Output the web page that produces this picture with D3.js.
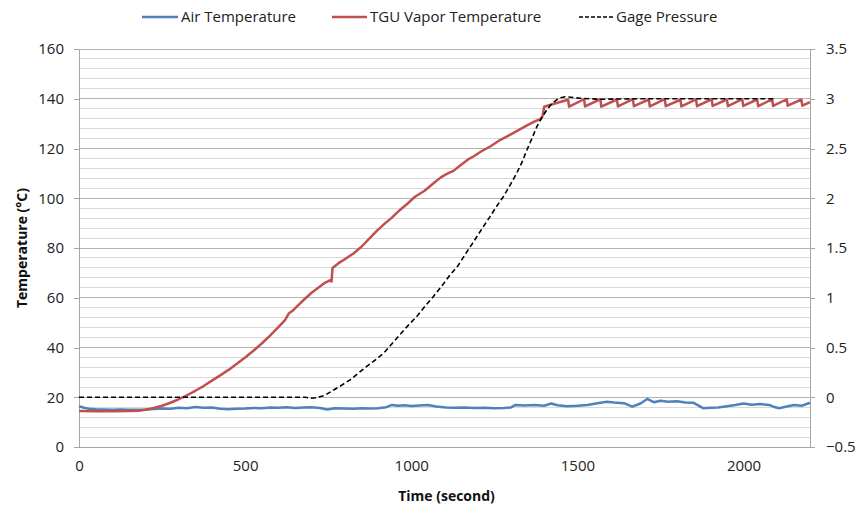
<!DOCTYPE html>
<html><head><meta charset="utf-8">
<script src="https://cdn.jsdelivr.net/npm/d3@7"></script>
<style>body{margin:0;background:#fff}svg{display:block}text{font-family:"Open Sans",sans-serif}</style>
</head><body><div id="chart"></div>
<script>
// ---- data ----
const xTicks = [0, 500, 1000, 1500, 2000];
const yLeftTicks = [0, 20, 40, 60, 80, 100, 120, 140, 160];
const yRightTicks = [-0.5, 0, 0.5, 1, 1.5, 2, 2.5, 3, 3.5];
const seriesNames = ["Air Temperature", "TGU Vapor Temperature", "Gage Pressure"];

const airTime = [0,15,30,50,75,100,125,150,175,200,225,250,275,300,325,350,375,400,425,450,475,500,525,550,575,600,625,650,675,700,725,747,770,800,825,850,875,900,925,942,960,980,1000,1025,1050,1075,1105,1130,1160,1190,1220,1250,1280,1300,1314,1340,1370,1400,1421,1440,1470,1500,1530,1560,1589,1610,1640,1665,1690,1710,1730,1750,1773,1800,1825,1848,1865,1878,1900,1923,1950,1975,2000,2025,2050,2077,2090,2107,2130,2152,2175,2200];
const airTemp = [16.4,15.8,15.4,15.2,15.1,15.0,15.1,15.0,15.0,15.1,15.3,15.5,15.4,15.8,15.6,16.1,15.8,15.9,15.4,15.2,15.4,15.5,15.7,15.6,15.9,15.8,16.0,15.7,15.9,16.0,15.7,15.1,15.6,15.5,15.4,15.6,15.5,15.6,16.0,16.9,16.6,16.8,16.5,16.7,16.9,16.3,15.9,15.8,15.9,15.7,15.8,15.6,15.7,15.9,16.9,16.7,16.9,16.6,17.5,16.8,16.4,16.6,16.9,17.6,18.2,17.9,17.6,16.2,17.5,19.3,18.0,18.6,18.2,18.4,17.9,17.8,16.6,15.6,15.8,15.9,16.4,16.9,17.5,17.0,17.3,16.9,16.2,15.6,16.3,16.9,16.6,17.8];

const vaporTime = [0,50,100,150,180,200,225,250,275,300,325,350,375,400,425,450,475,500,525,550,575,600,620,632,645,660,680,700,720,740,755,760,763,780,800,826,850,875,897,920,940,966,990,1010,1040,1067,1090,1110,1127,1150,1170,1187,1210,1240,1267,1290,1320,1350,1370,1388,1395,1400,1420,1440,1472,1475,1520,1523,1569,1572,1619,1622,1667,1670,1715,1718,1763,1766,1810,1813,1857,1860,1904,1907,1950,1953,1996,1999,2041,2044,2086,2089,2130,2133,2174,2177,2200];
const vaporTemp = [14.5,14.4,14.4,14.5,14.6,15.0,15.7,16.6,17.8,19.2,20.8,22.6,24.5,26.7,28.8,31.0,33.5,36.0,38.7,41.6,44.8,48.2,51.0,53.8,55.0,57.0,59.6,62.0,64.0,66.0,67.0,66.5,72.0,73.8,75.5,77.8,80.5,84.0,87.0,89.8,92.0,95.3,98.0,100.5,103.0,106.0,108.5,110.0,111.0,113.5,115.5,116.8,118.8,121.0,123.4,125.0,127.2,129.4,130.8,131.8,133.0,136.8,137.6,138.4,139.6,136.8,139.8,136.9,139.8,136.8,139.7,136.9,139.8,137.0,139.7,136.9,139.8,137.0,139.6,136.9,139.7,137.0,139.8,137.1,139.7,137.0,139.8,137.1,139.7,137.0,139.8,137.1,139.8,137.2,139.7,137.2,138.6];

const pressTime = [0,200,400,600,680,700,715,740,765,790,816,840,866,890,916,940,966,990,1016,1040,1066,1090,1117,1140,1165,1187,1212,1237,1257,1277,1297,1317,1333,1348,1363,1378,1393,1408,1423,1438,1450,1463,1480,1508,1568,1700,1900,2095];
const pressVal = [0,0,0,0,0,-0.01,-0.005,0.02,0.07,0.12,0.175,0.24,0.31,0.37,0.44,0.53,0.63,0.72,0.81,0.91,1.01,1.11,1.23,1.32,1.45,1.56,1.69,1.815,1.92,2.015,2.13,2.25,2.36,2.485,2.60,2.72,2.81,2.89,2.95,2.99,3.01,3.02,3.015,3.005,2.995,3.0,3.0,3.0];

// ---- layout ----
const W = 856, H = 506;
const m = {l: 79, r: 810, t: 49, b: 447};
const svg = d3.select("#chart").append("svg").attr("width", W).attr("height", H);

const x = d3.scaleLinear().domain([0, 2200]).range([m.l, m.r]);
const yL = d3.scaleLinear().domain([0, 160]).range([m.b, m.t]);
const yR = d3.scaleLinear().domain([-0.5, 3.5]).range([m.b, m.t]);

// minor gridlines (every 4 on left scale)
const minor = d3.range(0, 161, 4).filter(v => v % 20 !== 0);
svg.append("g").selectAll("line").data(minor).join("line")
  .attr("x1", m.l).attr("x2", m.r).attr("y1", d => yL(d)).attr("y2", d => yL(d))
  .attr("stroke", "#d9d9d9").attr("stroke-width", 1).attr("shape-rendering", "crispEdges");
// major gridlines
svg.append("g").selectAll("line").data(yLeftTicks).join("line")
  .attr("x1", m.l).attr("x2", m.r).attr("y1", d => yL(d)).attr("y2", d => yL(d))
  .attr("stroke", "#b3b3b3").attr("stroke-width", 1).attr("shape-rendering", "crispEdges");

// axes
const axisColor = "#a6a6a6";
const gL = svg.append("g").attr("transform", `translate(${m.l},0)`)
  .call(d3.axisLeft(yL).tickValues(yLeftTicks).tickSize(5).tickPadding(10));
const gR = svg.append("g").attr("transform", `translate(${m.r},0)`)
  .call(d3.axisRight(yR).tickValues(yRightTicks).tickSize(5).tickPadding(11).tickFormat(d3.format("")));
const gB = svg.append("g").attr("transform", `translate(0,${m.b})`)
  .call(d3.axisBottom(x).tickValues(xTicks).tickSize(0).tickPadding(13).tickFormat(d3.format("d")));
[gL, gR, gB].forEach(g => {
  g.select(".domain").attr("stroke", axisColor).attr("shape-rendering", "crispEdges");
  g.selectAll(".tick line").attr("stroke", axisColor).attr("shape-rendering", "crispEdges");
  g.selectAll("text").attr("font-size", 15).attr("fill", "#222").attr("font-family", "'Open Sans', sans-serif");
});
gB.select(".domain").attr("d", `M${m.l},0H${m.r}`);

// lines
const lineL = (xs, ys) => d3.line().x((d, i) => x(xs[i])).y((d, i) => yL(ys[i]))(ys);
const lineR = (xs, ys) => d3.line().x((d, i) => x(xs[i])).y((d, i) => yR(ys[i]))(ys);

svg.append("path").attr("d", lineL(airTime, airTemp))
  .attr("fill", "none").attr("stroke", "#4f81bd").attr("stroke-width", 2.5).attr("stroke-linejoin", "round");
svg.append("path").attr("d", lineL(vaporTime, vaporTemp))
  .attr("fill", "none").attr("stroke", "#c0504d").attr("stroke-width", 2.5).attr("stroke-linejoin", "round");
svg.append("path").attr("d", lineR(pressTime, pressVal))
  .attr("fill", "none").attr("stroke", "#000").attr("stroke-width", 1.6).attr("stroke-dasharray", "5,3");

// axis titles
svg.append("text").attr("x", (m.l + m.r) / 2 + 2).attr("y", 501).attr("text-anchor", "middle")
  .attr("font-size", 14).attr("font-weight", "bold").attr("fill", "#111").text("Time (second)");
svg.append("text").attr("transform", `translate(27,${(m.t + m.b) / 2}) rotate(-90)`).attr("text-anchor", "middle")
  .attr("font-size", 14).attr("font-weight", "bold").attr("fill", "#111").text("Temperature (°C)");

// legend
const legend = [
  {name: seriesNames[0], color: "#4f81bd", w: 2.5, dash: null, x0: 142, x1: 178, tx: 181},
  {name: seriesNames[1], color: "#c0504d", w: 2.5, dash: null, x0: 332, x1: 367, tx: 370},
  {name: seriesNames[2], color: "#000", w: 1.6, dash: "4,2", x0: 579, x1: 613, tx: 616}
];
const lg = svg.append("g");
legend.forEach(l => {
  lg.append("line").attr("x1", l.x0).attr("x2", l.x1).attr("y1", 17).attr("y2", 17)
    .attr("stroke", l.color).attr("stroke-width", l.w).attr("stroke-dasharray", l.dash);
  lg.append("text").attr("x", l.tx).attr("y", 22).attr("font-size", 15).attr("fill", "#222").text(l.name);
});
</script></body></html>
